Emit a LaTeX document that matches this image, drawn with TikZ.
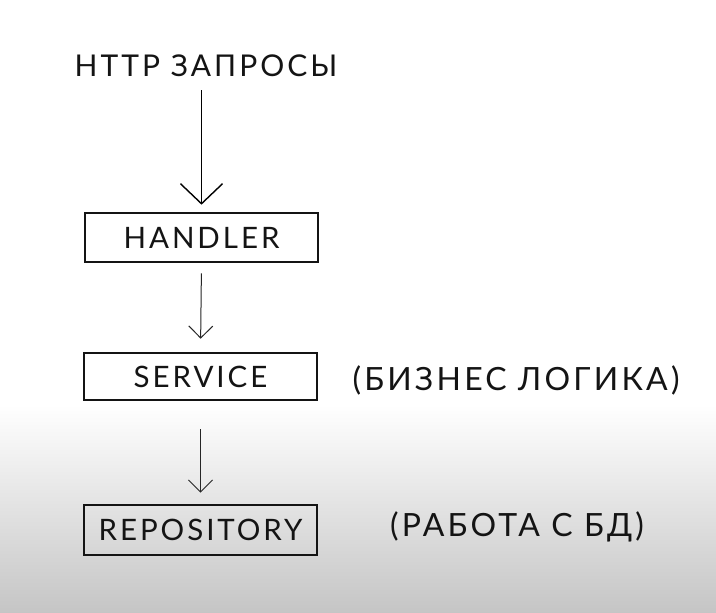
\documentclass[tikz,border=0pt]{standalone}
\usepackage{fontspec}
\setmainfont{Lato}[LetterSpace=10]
\usetikzlibrary{arrows.meta}
\definecolor{bggray}{RGB}{197,197,197}
\definecolor{ink}{RGB}{20,20,20}
\tikzset{
  layerbox/.style={draw=ink, line width=2.6pt, minimum width=233pt, inner sep=0pt, font=\fontsize{29.5}{31}\selectfont, text=ink},
  label/.style={inner sep=0pt, anchor=base, font=\fontsize{30}{32}\selectfont, text=ink},
  note/.style={inner sep=0pt, anchor=base, font=\fontsize{32}{34}\selectfont, text=ink},
  flow/.style={draw=black!85, line width=1pt, -{Straight Barb[length=12pt,width=24pt,line width=1pt]}},
  bigflow/.style={draw=black, line width=1.4pt, -{Straight Barb[length=20pt,width=42pt,line width=1.4pt]}}
}
\begin{document}
\begin{tikzpicture}[x=1pt,y=-1pt]
\useasboundingbox (0,0) rectangle (716,613);
\fill[white] (0,0) rectangle (716,613);
\shade[top color=white, bottom color=bggray] (0,405) rectangle (716,613);
\node[label] (http) at (206,76) {HTTP ЗАПРОСЫ};
\node[layerbox, minimum height=49pt] (handler) at (201.5,237.5) {HANDLER};
\node[layerbox, minimum height=47pt] (service) at (200.5,376.5) {SERVICE};
\node[layerbox, minimum height=50pt] (repo) at (200.5,530) {REPOSITORY};
\node[note] (biz) at (516,390) {(БИЗНЕС ЛОГИКА)};
\node[note] (db) at (517,536) {(РАБОТА С БД)};
\draw[bigflow, shorten <=14pt, shorten >=7pt] (handler.north |- http.south) -- (handler.north);
\draw[flow, shorten <=10pt, shorten >=13pt] (handler.south) -- (service.north);
\draw[flow, shorten <=28pt, shorten >=11pt] (service.south) -- (repo.north);
\end{tikzpicture}
\end{document}
